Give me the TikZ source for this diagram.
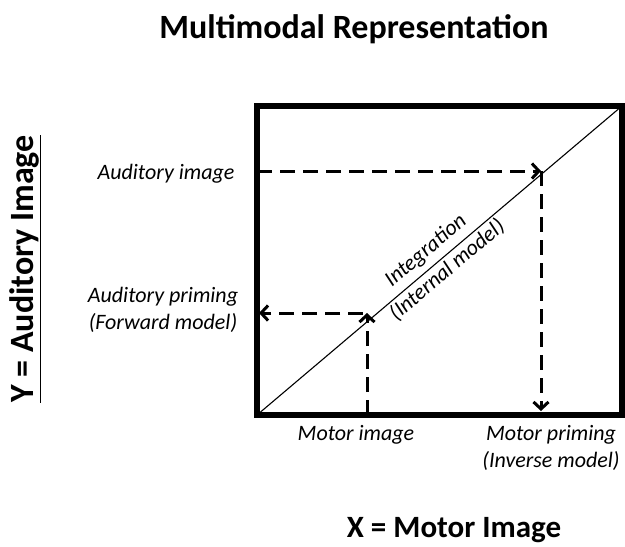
\documentclass[tikz,border=0pt]{standalone}
\usepackage{fontspec}
\setmainfont{Carlito}
\usetikzlibrary{arrows.meta}
\tikzset{
  axislabel/.style={font=\fontsize{31}{36}\selectfont\bfseries},
  itlabel/.style={font=\fontsize{22}{26.5}\selectfont\itshape, align=center, inner sep=0pt},
  dasharrow/.style={line width=3pt, dash pattern=on 15pt off 8pt,
    -{Straight Barb[length=7pt,width=15pt,line width=3pt]}},
}
\begin{document}
\begin{tikzpicture}[x=1pt,y=-1pt]
\useasboundingbox (0,0) rectangle (625,547);
% frame and diagonal
\coordinate (bl) at (257,415);
\coordinate (tr) at (622,106);
\draw [line width=6pt] (bl) rectangle (tr);
\draw [line width=1.1pt] (bl) -- (tr);
% arrows
\coordinate (audin) at (257,171);
\coordinate (upmeet) at (541,171);
\coordinate (motout) at (541,411);
\coordinate (motin) at (367,415);
\coordinate (lowmeet) at (367,313);
\coordinate (lowstart) at (363,313);
\coordinate (audout) at (259,313);
\draw [dasharrow] (audin) -- (upmeet);
\draw [dasharrow] (upmeet) -- (motout);
\draw [dasharrow] (motin) -- (lowmeet);
\draw [dasharrow] (lowstart) -- (audout);
% texts
\node [axislabel, font=\fontsize{34}{38}\selectfont\bfseries] (title) at (354,29) {Multimodal Representation};
\node [axislabel] (xlabel) at (454,530) {X = Motor Image};
\node [axislabel, font=\fontsize{34}{38}\selectfont\bfseries, rotate=90] (ylabel) at (25,269) {\underline{Y = Auditory Image}};
\node [itlabel] (audimg) at (166,174) {Auditory image};
\node [itlabel] (audprim) at (163,310) {Auditory priming\\(Forward model)};
\node [itlabel] (motimg) at (356,435) {Motor image};
\node [itlabel] (motprim) at (551,448) {Motor priming\\(Inverse model)};
\node [itlabel, rotate=40.25] (integ) at (426,251) {Integration};
\node [itlabel, rotate=40.25] (intmodel) at (447,270) {(Internal model)};
\end{tikzpicture}
\end{document}
